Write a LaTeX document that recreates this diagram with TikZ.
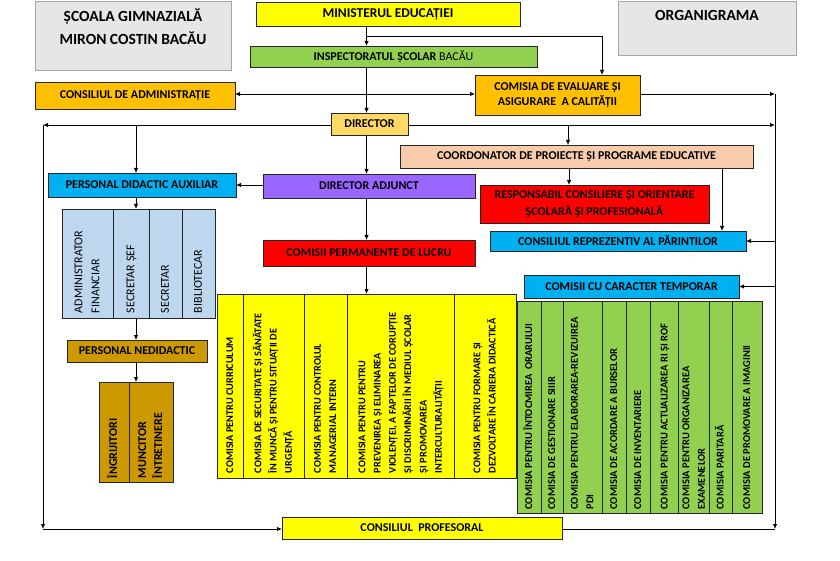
\documentclass[tikz,border=0pt]{standalone}
\usepackage{fontspec}
\setmainfont{Carlito}
\usetikzlibrary{arrows.meta}
\definecolor{cgray}{HTML}{E7E6E6}
\definecolor{cgrayb}{HTML}{A6A6A6}
\definecolor{cyel}{HTML}{FFFF00}
\definecolor{cgreen}{HTML}{92D050}
\definecolor{corange}{HTML}{FFC000}
\definecolor{cgold}{HTML}{FFD966}
\definecolor{cpeach}{HTML}{F8CBAD}
\definecolor{cpurple}{HTML}{9966FF}
\definecolor{cblue}{HTML}{00B0F0}
\definecolor{cred}{HTML}{FF0000}
\definecolor{cltblue}{HTML}{BDD7EE}
\definecolor{cbrown}{HTML}{CC9900}
\definecolor{cline}{HTML}{262626}
\newcommand\tcell[9]{% name, x1, x2, y1, y2, fill, font, pad, text
  \pgfmathsetmacro\cw{#5-#4-2*#8}%
  \node[cell, fill=#6, font=#7, minimum width={#5-#4}, minimum height={#3-#2}] (#1)
    at ({(#2+#3)/2},{(#4+#5)/2})
    {\makebox[\cw pt][l]{\begin{tabular}{@{}l@{}}#9\end{tabular}}};}
\begin{document}
\begin{tikzpicture}[x=1pt,y=-1pt,
  every node/.style={inner sep=0pt, outer sep=0pt},
  box/.style={draw=cline, line width=0.9pt, align=center, font=\bfseries\fontsize{12}{15}\selectfont},
  tbox/.style={draw=cgrayb, fill=cgray, line width=1pt},
  ttext/.style={align=center, font=\bfseries\fontsize{15.5}{22.5}\selectfont},
  cell/.style={draw=cline, line width=0.9pt, rotate=90},
  con/.style={draw=black, line width=0.85pt},
  arr/.style={con, -{Latex[length=5pt,width=4.5pt]}},
]
\fill[white] (0,0) rectangle (840,561);
\useasboundingbox (0,0) rectangle (840,561);

% title boxes
\node[tbox, minimum width=196, minimum height=69] (scoala) at (133,36.5) {};
\node[ttext, anchor=north] (scoalat) at ([yshift=-7pt]scoala.north) {ȘCOALA GIMNAZIALĂ\\MIRON COSTIN BACĂU};
\node[tbox, minimum width=178, minimum height=54] (organ) at (707,29) {};
\node[ttext, anchor=north] (organt) at ([yshift=-8pt]organ.north) {ORGANIGRAMA};

% main boxes
\node[box, fill=cyel, minimum width=264, minimum height=24, font=\bfseries\fontsize{13.5}{15}\selectfont] (min) at (388,14) {MINISTERUL EDUCAȚIEI};
\node[box, fill=cgreen, minimum width=287, minimum height=21] (insp) at (393.5,56.5) {INSPECTORATUL ȘCOLAR {\mdseries BACĂU}};
\node[box, fill=corange, minimum width=200, minimum height=27] (adm) at (135,95.5) {CONSILIUL DE ADMINISTRAȚIE};
\node[box, fill=corange, minimum width=165, minimum height=40] (evl) at (557.5,95) {COMISIA DE EVALUARE ȘI\\ASIGURARE\ \ A CALITĂȚII};
\node[box, fill=cgold, minimum width=77, minimum height=22] (dir) at (369.5,124) {DIRECTOR};
\node[box, fill=cpeach, minimum width=353, minimum height=23] (coord) at (576.5,156.5) {COORDONATOR DE PROIECTE ȘI PROGRAME EDUCATIVE};
\node[box, fill=cpurple, minimum width=212, minimum height=24] (adj) at (369,186) {DIRECTOR ADJUNCT};
\node[box, fill=cblue, minimum width=188, minimum height=24] (pda) at (142,185) {PERSONAL DIDACTIC AUXILIAR};
\node[box, fill=cred, minimum width=229, minimum height=38, font=\bfseries\fontsize{12}{17}\selectfont] (resp) at (594.5,204) {RESPONSABIL CONSILIERE ȘI ORIENTARE\\ȘCOLARĂ ȘI PROFESIONALĂ};
\node[box, fill=cblue, minimum width=256, minimum height=20] (cpr) at (618,241) {CONSILIUL REPREZENTIV AL PĂRINTILOR};
\node[box, fill=cred, minimum width=212, minimum height=26] (cpl) at (369,253) {COMISII PERMANENTE DE LUCRU};
\node[box, fill=cblue, minimum width=215, minimum height=23] (cct) at (631.5,286.5) {COMISII CU CARACTER TEMPORAR};
\node[box, fill=cbrown, minimum width=140, minimum height=22] (pnd) at (137,351) {PERSONAL NEDIDACTIC};
\node[box, fill=cyel, minimum width=280, minimum height=22] (prof) at (422,528) {CONSILIUL\ \ PROFESORAL};

% auxiliary staff table
\def\af{\fontsize{12}{17}\selectfont}
\tcell{a1}{62}{113}{209}{318}{cltblue}{\af}{5}{ADMINISTRATOR\\FINANCIAR}
\tcell{a2}{113}{149}{209}{318}{cltblue}{\af}{5}{SECRETAR ȘEF}
\tcell{a3}{149}{182}{209}{318}{cltblue}{\af}{5}{SECRETAR}
\tcell{a4}{182}{215}{209}{318}{cltblue}{\af}{5}{BIBLIOTECAR}

% non-teaching staff table
\def\nf{\bfseries\fontsize{12}{16}\selectfont}
\tcell{i1}{99}{129}{382}{482}{cbrown}{\nf}{4}{ÎNGRIJITORI}
\tcell{i2}{129}{173}{382}{482}{cbrown}{\nf}{4}{MUNCITOR\\ÎNTRETINERE}

% permanent commissions
\def\yf{\bfseries\fontsize{10.3}{15.3}\selectfont}
\tcell{y1}{217}{243}{294}{478}{cyel}{\yf}{5}{COMISIA PENTRU CURRICULUM}
\tcell{y2}{243}{304}{294}{478}{cyel}{\yf}{5}{COMISIA DE SECURITATE ȘI SĂNĂTATE\\ÎN MUNCĂ ȘI PENTRU SITUAȚII DE\\URGENȚĂ}
\tcell{y3}{304}{347}{294}{478}{cyel}{\yf}{5}{COMISIA PENTRU CONTROLUL\\MANAGERIAL INTERN}
\tcell{y4}{347}{454}{294}{478}{cyel}{\yf}{5}{COMISIA PENTRU PENTRU\\PREVENIREA ȘI ELIMINAREA\\VIOLENȚEI, A FAPTELOR DE CORUPȚIE\\ȘI DISCRIMINĂRII ÎN MEDIUL ȘCOLAR\\ȘI PROMOVAREA\\INTERCULTURALITĂȚII}
\tcell{y5}{454}{516}{294}{478}{cyel}{\yf}{5}{COMISIA PENTRU FORMARE ȘI\\DEZVOLTARE ÎN CARIERA DIDACTICĂ}

% temporary commissions
\def\gf{\bfseries\fontsize{10.5}{15.5}\selectfont}
\tcell{g1}{517}{541}{301}{513}{cgreen}{\gf}{3.5}{COMISIA PENTRU ÎNTOCMIREA\ \ ORARULUI}
\tcell{g2}{541}{563}{301}{513}{cgreen}{\gf}{3.5}{COMISIA DE GESTIONARE SIIIR}
\tcell{g3}{563}{602}{301}{513}{cgreen}{\gf}{3.5}{COMISIA PENTRU ELABORAREA-REVIZUIREA\\PDI}
\tcell{g4}{602}{626}{301}{513}{cgreen}{\gf}{3.5}{COMISIA DE ACORDARE A BURSELOR}
\tcell{g5}{626}{650}{301}{513}{cgreen}{\gf}{3.5}{COMISIA DE INVENTARIERE}
\tcell{g6}{650}{679}{301}{513}{cgreen}{\gf}{3.5}{COMISIA PENTRU ACTUALIZAREA RI ȘI ROF}
\tcell{g7}{679}{709}{301}{513}{cgreen}{\gf}{3.5}{COMISIA PENTRU ORGANIZAREA\\EXAMENELOR}
\tcell{g8}{709}{732}{301}{513}{cgreen}{\gf}{3.5}{COMISIA PARITARĂ}
\tcell{g9}{732}{762}{301}{513}{cgreen}{\gf}{3.5}{COMISIA DE PROMOVARE A IMAGINII}

% junction coordinates
\coordinate (spine) at (366.5,0);
\coordinate (jm) at (366.5,36);
\coordinate (ja) at (366.5,94);
\coordinate (je) at (602,0);
\coordinate (rt) at (775,94);
\coordinate (rb) at (775,529);
\coordinate (lt) at (43,125);
\coordinate (lb) at (43,529);
\coordinate (jp) at (136,0);
\coordinate (jc) at (568,0);
\coordinate (jr) at (569,0);
\coordinate (jk) at (722,0);

% connectors
\draw[arr] (min.south -| spine) -- (insp.north -| spine);
\draw[arr] (jm) -| (evl.north -| je);
\draw[arr] (insp.south -| spine) -- (dir.north -| spine);
\draw[arr] (ja) -- (adm.east |- ja);
\draw[arr] (ja) -- (evl.west |- ja);
\draw[arr] (evl.east |- ja) -- (rt);
\draw[arr] (dir.east |- lt) -- (rt |- lt);
\draw[arr] (dir.west |- lt) -- (lt);
\draw[arr] (lt) -- (lb);
\draw[arr] (lb) -- (prof.west |- lb);
\draw[arr] (rt) -- (rb);
\draw[con] (prof.east |- rb) -- (rb);
\draw[arr] (jp |- lt) -- (pda.north -| jp);
\draw[arr] (jc |- lt) -- (coord.north -| jc);
\draw[arr] (dir.south -| spine) -- (adj.north -| spine);
\draw[arr] (coord.south -| jr) -- (resp.north -| jr);
\draw[arr] (coord.south -| jk) -- (cpr.north -| jk);
\draw[arr] (rt |- cpr.east) -- (cpr.east);
\draw[arr] (rt |- cct.east) -- (cct.east);
\draw[arr] (adj.west |- pda.east) -- (pda.east);
\draw[arr] (adj.south -| spine) -- (cpl.north -| spine);
\draw[arr] (cpl.south -| spine) -- (y4.east -| spine);
\draw[arr] (pda.south -| jp) -- (a2.east -| jp);
\draw[arr] (a2.west -| jp) -- (pnd.north -| jp);
\draw[arr] (pnd.south -| jp) -- (i2.east -| jp);
\end{tikzpicture}
\end{document}
